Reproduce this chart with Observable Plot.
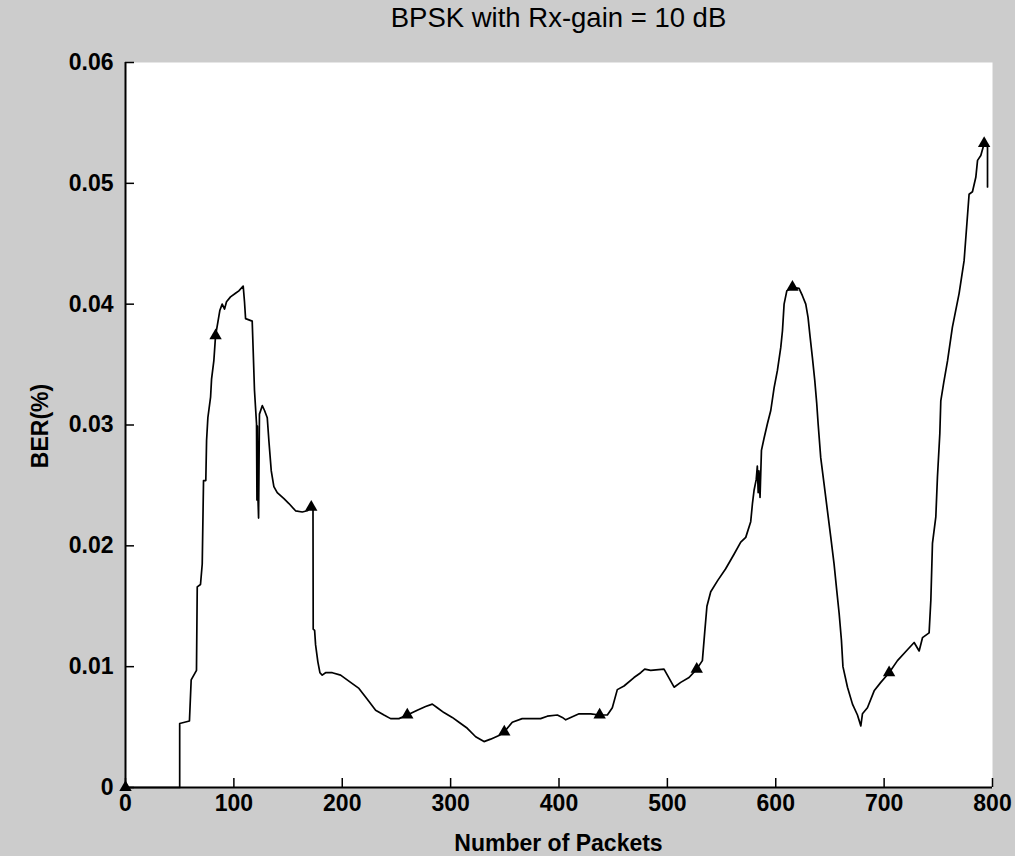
<!DOCTYPE html>
<html><head><meta charset="utf-8">
<script src="https://cdn.jsdelivr.net/npm/d3@7"></script>
<script src="https://cdn.jsdelivr.net/npm/@observablehq/plot@0.6"></script>
<style>
html,body{margin:0;padding:0;background:#fff;}
#fig{position:relative;width:1015px;height:856px;background:#cccccc;overflow:hidden;font-family:"Liberation Sans",Arial,sans-serif;color:#000;}
#chart{position:absolute;left:0;top:0;}
#title{position:absolute;left:125px;width:867px;top:2px;text-align:center;font-size:27.5px;}
#ylabel{position:absolute;left:40px;top:426px;transform:translate(-50%,-50%) rotate(-90deg);font-weight:bold;font-size:23px;white-space:nowrap;}
#xlabel{position:absolute;left:125px;width:867px;top:830px;text-align:center;font-weight:bold;font-size:23px;white-space:nowrap;}
</style></head>
<body>
<div id="fig">
  <div id="chart"></div>
  <div id="title">BPSK with Rx-gain = 10 dB</div>
  <div id="ylabel">BER(%)</div>
  <div id="xlabel">Number of Packets</div>
</div>
<script>
const packets = [0,50,50,59,60.6,65.5,66.2,69.2,70.8,72,74.1,74.8,76,78.5,79.4,81.5,83.1,85.2,87.1,89.2,91.4,93.2,96.9,101.5,104.6,108.6,109.8,110.8,116.9,117.8,119,120.9,121.3,121.7,122.2,122.8,123.6,126.2,128.3,130.8,132.3,134.5,136.9,140,146.2,150.8,156.9,163.1,167.7,171.4,173,173.2,174.5,175.4,177.5,179.4,181.5,184.6,190.8,198.5,207.7,215.4,223.1,230.8,238.5,244.6,252.3,260,269.2,276.9,283.1,287.7,293.8,301.5,307.7,315.4,323.1,330.8,336.9,344.6,349.5,356.9,366,383,389.2,398.5,403.1,406.2,410.8,418.5,429.2,437.5,444.6,449.2,453.8,460,469.2,475.4,479.1,484.6,496.9,500,506.2,512.3,520,527.1,532.3,534.5,536.5,540,546.2,553.8,561.5,567.7,572.3,576.9,578.5,580,582,583,583.8,584.5,585.5,586.8,589.2,592.3,595.4,598.5,601.5,604.6,606.2,607.7,610.2,615.4,621.5,624.6,627.7,629.8,631.7,633.8,636,637.8,639.1,641.5,644.6,647.7,650.8,653.8,656.3,658.5,660.6,662,666.2,670.8,675.4,678.5,680,684.6,690.8,696.9,704.6,712.3,721.5,727.7,732.3,735.4,741.5,743.1,744.6,747.7,749.2,751.4,752.3,755,758.5,763,769.2,773.8,778.4,781.5,784.6,786.2,789.2,792.3,795.4,795.4];
const ber = [0,0,0.0053,0.0055,0.0089,0.0097,0.0166,0.0168,0.0185,0.0254,0.0254,0.0287,0.0306,0.0323,0.0338,0.0353,0.0374,0.0385,0.0395,0.0400,0.0396,0.0402,0.0406,0.0409,0.0411,0.0415,0.0402,0.0388,0.0386,0.0362,0.0329,0.0301,0.0238,0.0299,0.0240,0.0223,0.0309,0.0316,0.0312,0.0306,0.0287,0.0262,0.0249,0.0244,0.0239,0.0235,0.0229,0.0228,0.0229,0.0232,0.0232,0.0131,0.0130,0.0118,0.0104,0.0095,0.0093,0.0095,0.0095,0.0093,0.0087,0.0082,0.0073,0.0064,0.0060,0.0057,0.0057,0.0060,0.0064,0.0067,0.0069,0.0066,0.0062,0.0058,0.0054,0.0049,0.0042,0.0038,0.0040,0.0043,0.0046,0.0054,0.0057,0.0057,0.0059,0.0060,0.0058,0.0056,0.0058,0.0061,0.0061,0.0060,0.0060,0.0066,0.0081,0.0084,0.0091,0.0095,0.0098,0.0097,0.0098,0.0093,0.0083,0.0087,0.0091,0.0098,0.0105,0.0129,0.0150,0.0162,0.0171,0.0181,0.0193,0.0203,0.0207,0.0220,0.0235,0.0246,0.0255,0.0266,0.0244,0.0262,0.0240,0.0279,0.0289,0.0301,0.0312,0.0331,0.0345,0.0364,0.0378,0.0400,0.0411,0.0414,0.0413,0.0407,0.0400,0.0389,0.0373,0.0356,0.0337,0.0318,0.0301,0.0273,0.0251,0.0229,0.0207,0.0185,0.0163,0.0144,0.0122,0.0100,0.0083,0.0069,0.0060,0.0051,0.0061,0.0066,0.0080,0.0087,0.0095,0.0105,0.0114,0.0120,0.0113,0.0124,0.0128,0.0155,0.0202,0.0224,0.0257,0.0293,0.0320,0.0335,0.0353,0.0381,0.0409,0.0436,0.0491,0.0493,0.0505,0.0519,0.0523,0.0533,0.0530,0.0497];
const markerPackets = [0,83.1,171.4,260,349.5,437.5,527.1,615.4,704.6,792.3];
const markerBer = [0,0.0374,0.0232,0.0060,0.0046,0.0060,0.0098,0.0414,0.0095,0.0533];
const xTicks = [0,100,200,300,400,500,600,700,800];
const yTicks = [0,0.01,0.02,0.03,0.04,0.05,0.06];
const yTickLabels = ["0","0.01","0.02","0.03","0.04","0.05","0.06"];

const series = packets.map((p,i)=>({x:p,y:ber[i]}));
const marks = markerPackets.map((p,i)=>({x:p,y:markerBer[i]}));

const chart = Plot.plot({
  width:1015, height:856,
  marginLeft:125, marginRight:23, marginTop:62, marginBottom:69,
  style:{background:"transparent", fontFamily:"'Liberation Sans',Arial,sans-serif", fontSize:"23px", fontWeight:"bold", color:"#000", overflow:"visible"},
  x:{domain:[0,800]},
  y:{domain:[0,0.06]},
  marks:[
    Plot.frame({fill:"white", stroke:"none"}),
    Plot.ruleX(xTicks, {x:d=>d, insetTop:716, stroke:"#000", strokeWidth:1.5}),
    Plot.ruleY(yTicks, {y:d=>d, insetRight:858, stroke:"#000", strokeWidth:1.5}),
    Plot.axisX(xTicks, {tickSize:0, tickPadding:7, tickFormat:d=>String(d), label:null}),
    Plot.axisY(yTicks, {tickSize:0, tickPadding:12, tickFormat:d=>yTickLabels[yTicks.indexOf(d)], label:null}),
    Plot.line(series, {x:"x", y:"y", stroke:"#000", strokeWidth:1.7, curve:"linear"}),
    Plot.dot(marks, {x:"x", y:"y", symbol:"triangle", fill:"#000", stroke:"none", r:4.6}),
    Plot.ruleX([0], {stroke:"#000", strokeWidth:2}),
    Plot.ruleY([0], {stroke:"#000", strokeWidth:2})
  ]
});
document.getElementById("chart").appendChild(chart);
</script>
</body></html>
